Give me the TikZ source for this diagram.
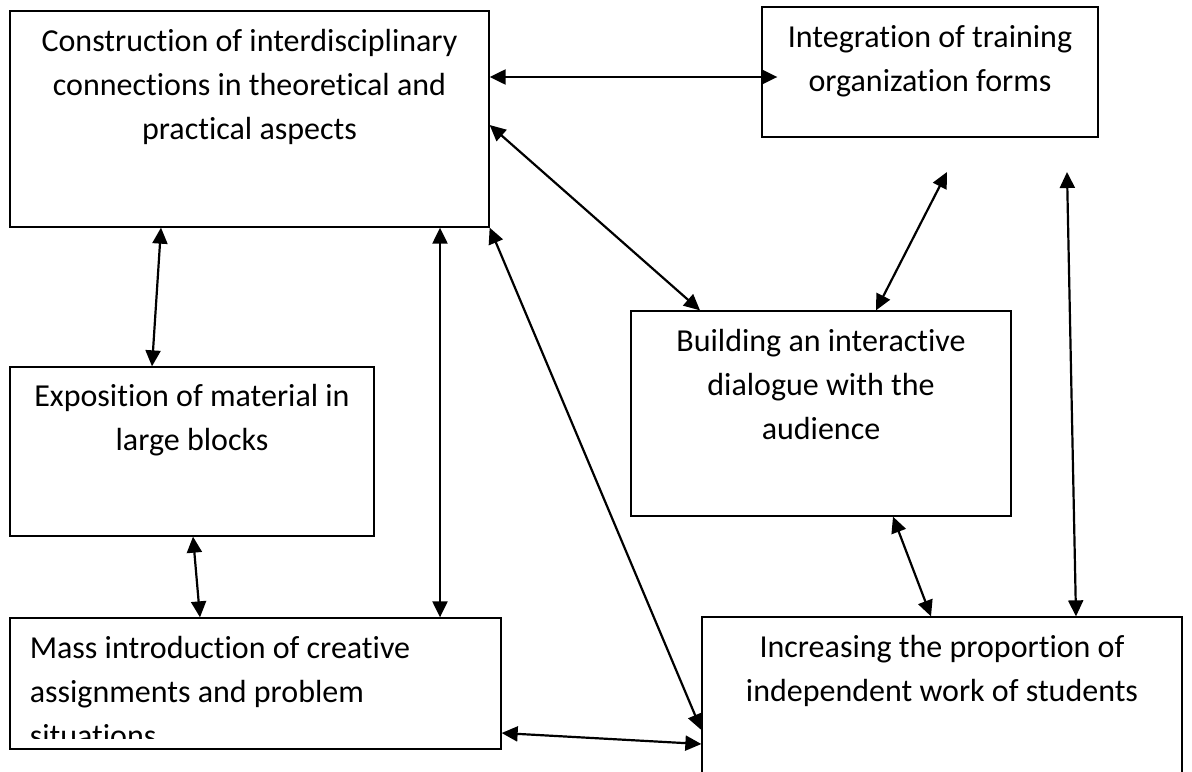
\documentclass[tikz,border=0pt]{standalone}
\usepackage{fontspec}
\setmainfont{Carlito}[Ligatures={NoCommon,NoContextual}]
\usetikzlibrary{arrows.meta,fit}

\begin{document}
\begin{tikzpicture}[x=0.5pt, y=-0.5pt,
  box/.style={draw, line width=0.65pt, inner sep=0pt},
  txt/.style={anchor=base, align=center, inner sep=0pt, font=\fontsize{16}{22}\selectfont},
  arr/.style={{Triangle[length=8pt,width=7.5pt]}-{Triangle[length=8pt,width=7.5pt]}, line width=1.1pt}]
\clip (0,0) rectangle (1192,771);

% Boxes
\node[box, fit={(10,11) (489,227)}] (A) {};
\node[box, fit={(762,7) (1098,137)}] (B) {};
\node[box, fit={(631,311) (1011,516)}] (C) {};
\node[box, fit={(10,367) (374,536)}] (D) {};
\node[box, fit={(10,618) (501,749)}] (E) {};
\node[box, fit={(702,617) (1182,800)}] (F) {};

% Texts (base = baseline of the last line)
\node[txt] (tA) at ([yshift=-64.5pt]A.north) {Construction of interdisciplinary\\connections in theoretical and\\practical aspects};
\node[txt] (tB) at ([yshift=-42.5pt]B.north) {Integration of training\\organization forms};
\node[txt] (tC) at ([yshift=-64.5pt]C.north) {Building an interactive\\dialogue with the\\audience};
\node[txt] (tD) at ([yshift=-42pt]D.north) {Exposition of material in\\large blocks};
\node[txt] (tF) at ([yshift=-42.5pt]F.north) {Increasing the proportion of\\independent work of students};
% last line of this box is cut off
\begin{scope}
\clip (E.north west) rectangle (E.east |- 0,738);
\node[txt, align=left, anchor=base west] (tE) at ([xshift=10pt,yshift=-64.5pt]E.north west) {Mass introduction of creative\\assignments and problem\\situations};
\end{scope}

% Arrows
\coordinate (bcTop) at (947,172);
\coordinate (rTop) at (1067,172);
\draw[arr] (A.east |- 0,77) -- ([xshift=8pt]B.west |- 0,77);
\draw[arr] (A.east |- 0,125) -- (700,0 |- C.north);
\draw[arr] (bcTop) -- (876,0 |- C.north);
\draw[arr] (rTop) -- (1076,0 |- F.north);
\draw[arr] (161,0 |- A.south) -- (152,0 |- D.north);
\draw[arr] (440,0 |- A.south) -- (440,0 |- E.north);
\draw[arr] (A.south east) -- (F.west |- 0,730);
\draw[arr] (193,0 |- D.south) -- (200,0 |- E.north);
\draw[arr] (893,0 |- C.south) -- (931,0 |- F.north);
\draw[arr] (E.east |- 0,733) -- (F.west |- 0,744);

\end{tikzpicture}
\end{document}
